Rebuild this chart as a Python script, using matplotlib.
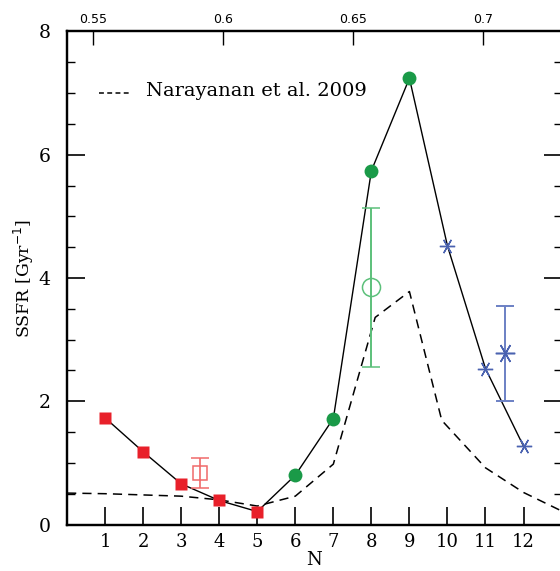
import numpy as np
import matplotlib
matplotlib.use('Agg')
import matplotlib.pyplot as plt

# data
n_red = [1, 2, 3, 4, 5]
ssfr_red = [1.73, 1.18, 0.66, 0.39, 0.21]
n_green = [6, 7, 8, 9]
ssfr_green = [0.80, 1.72, 5.74, 7.24]
n_blue = [10, 11, 12]
ssfr_blue = [4.52, 2.53, 1.27]

# averaged points with error bars
n_avg_red, avg_red, lo_red, hi_red = 3.5, 0.84, 0.59, 1.08
n_avg_green, avg_green, lo_green, hi_green = 8.0, 3.86, 2.56, 5.14
n_avg_blue, avg_blue, lo_blue, hi_blue = 11.5, 2.78, 2.01, 3.54

# Narayanan et al. 2009 curve
n_nar = [0, 1, 2, 3, 4, 5, 6, 7, 8.1, 9, 9.85, 11, 12, 13]
ssfr_nar = [0.51, 0.50, 0.48, 0.46, 0.40, 0.30, 0.46, 0.98, 3.36, 3.78,
            1.69, 0.92, 0.52, 0.22]

top_ticks = [0.55, 0.6, 0.65, 0.7]
top_labels = ['0.55', '0.6', '0.65', '0.7']

red = '#e8202a'
red_light = '#f06a6a'
green = '#1a9a48'
green_light = '#5cc07a'
blue = '#4a62b0'
blue_light = '#6b80c4'

plt.rcParams['font.family'] = 'DejaVu Serif'

fig = plt.figure(figsize=(5.6, 5.71), dpi=100)
ax = fig.add_axes([0.1198, 0.0814, 0.883, 0.8636])

# line through all points
n_all = n_red + n_green + n_blue
ssfr_all = ssfr_red + ssfr_green + ssfr_blue
ax.plot(n_all, ssfr_all, color='black', lw=1.0, zorder=2)
ax.plot(n_nar, ssfr_nar, color='black', lw=1.1, ls=(0, (6, 4)), zorder=1)

ax.plot(n_red, ssfr_red, 's', color=red, ms=8, mec='none', zorder=3)
ax.plot(n_green, ssfr_green, 'o', color=green, ms=10, mec='none', zorder=3)
star = (6, 2, 90)
ax.plot(n_blue, ssfr_blue, ls='none', marker=star, color=blue, ms=11,
        mew=1.0, zorder=3)

ax.errorbar(n_avg_red, avg_red,
            yerr=[[avg_red - lo_red], [hi_red - avg_red]],
            fmt='s', mfc='none', mec=red_light, ecolor=red_light, ms=10,
            mew=1.1, elinewidth=1.2, capsize=6.5, capthick=1.2, zorder=3)
ax.errorbar(n_avg_green, avg_green,
            yerr=[[avg_green - lo_green], [hi_green - avg_green]],
            fmt='o', mfc='none', mec=green_light, ecolor=green_light, ms=13,
            mew=1.1, elinewidth=1.4, capsize=6.5, capthick=1.4, zorder=3)
ax.errorbar(n_avg_blue, avg_blue,
            yerr=[[avg_blue - lo_blue], [hi_blue - avg_blue]],
            fmt='none', ecolor=blue_light, elinewidth=1.4, capsize=6.5,
            capthick=1.4, zorder=3)
ax.plot(n_avg_blue, avg_blue, ls='none', marker=star, color=blue, ms=14,
        mew=1.1, zorder=4)

# legend entry
ax.plot([0.85, 1.7], [7.0, 7.0], color='black', lw=1.1, ls=(0, (3.2, 2.2)))
ax.text(2.08, 7.04, 'Narayanan et al. 2009', fontsize=14, va='center',
        ha='left')

ax.set_xlim(0, 13)
ax.set_ylim(0, 8)
ax.set_xticks(range(1, 13))
ax.set_yticks([0, 2, 4, 6, 8])
ax.set_yticks(np.arange(0, 8.01, 0.5), minor=True)
ax.tick_params(axis='x', which='major', direction='in', length=13, width=1.2,
               labelsize=13, pad=6)
ax.tick_params(axis='y', which='major', direction='in', length=13, width=1.2,
               labelsize=13.5, right=True, pad=12)
ax.tick_params(axis='y', which='minor', direction='in', length=6, width=1.0,
               right=True)
ax.set_xlabel('N', fontsize=13, labelpad=0)
ax.set_ylabel('SSFR [Gyr$^{-1}$]', fontsize=12.5, labelpad=2)
for s in ax.spines.values():
    s.set_linewidth(1.6)

top = ax.twiny()
top.set_xlim(0.54, 0.73)
top.set_xticks(top_ticks)
top.set_xticklabels(top_labels, family='DejaVu Sans')
top.tick_params(axis='x', direction='in', length=10, width=1.0, labelsize=9,
                pad=4)
for s in top.spines.values():
    s.set_linewidth(1.6)

fig.savefig('out.png', dpi=100)
